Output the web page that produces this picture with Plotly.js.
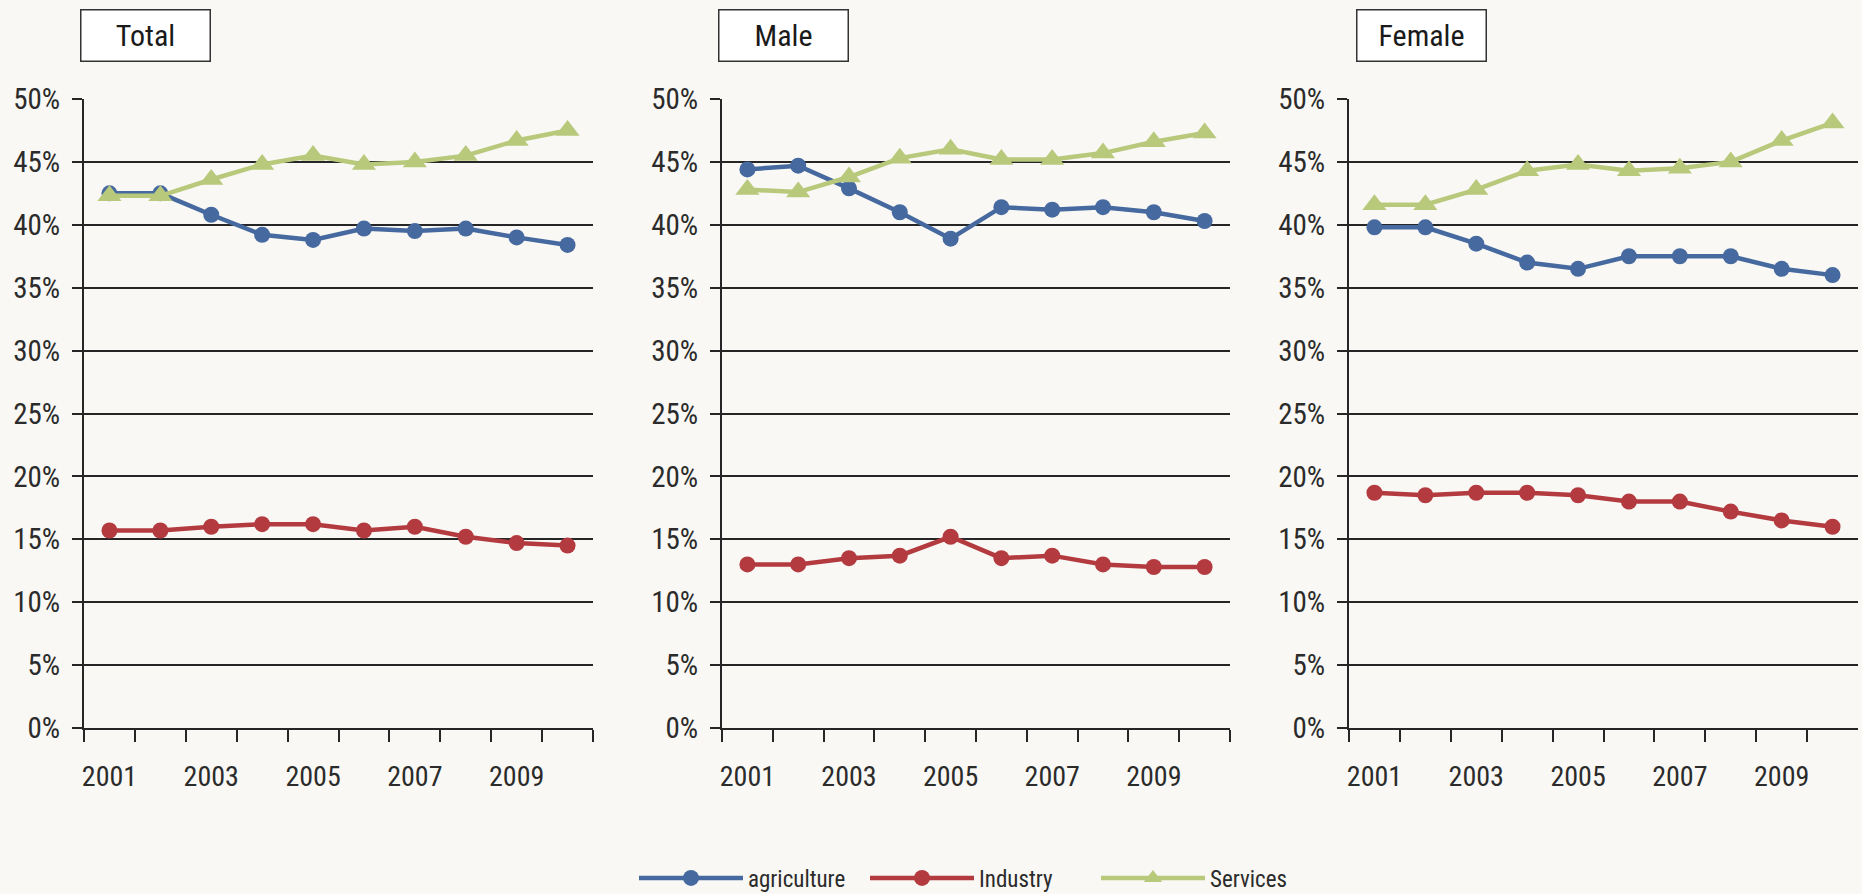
<!DOCTYPE html>
<html>
<head>
<meta charset="utf-8">
<script src="https://cdn.plot.ly/plotly-3.0.1.min.js"></script>
<style>
  html, body { margin: 0; padding: 0; background: #f9f8f4; }
  #chart { width: 1862px; height: 894px; }
</style>
</head>
<body>
<div id="chart"></div>
<script>
// ---- data (percent) ----
const years = ['2001','2002','2003','2004','2005','2006','2007','2008','2009','2010'];
const yearLabels = ['2001','','2003','','2005','','2007','','2009',''];
const panelTitles = ['Total', 'Male', 'Female'];
const seriesNames = ['agriculture', 'Industry', 'Services'];

const totalAgriculture = [42.5, 42.5, 40.8, 39.2, 38.8, 39.7, 39.5, 39.7, 39.0, 38.4];
const totalIndustry    = [15.7, 15.7, 16.0, 16.2, 16.2, 15.7, 16.0, 15.2, 14.7, 14.5];
const totalServices    = [42.3, 42.3, 43.6, 44.8, 45.5, 44.8, 45.0, 45.5, 46.7, 47.5];

const maleAgriculture  = [44.4, 44.7, 42.9, 41.0, 38.9, 41.4, 41.2, 41.4, 41.0, 40.3];
const maleIndustry     = [13.0, 13.0, 13.5, 13.7, 15.2, 13.5, 13.7, 13.0, 12.8, 12.8];
const maleServices     = [42.8, 42.6, 43.8, 45.3, 46.0, 45.2, 45.2, 45.7, 46.6, 47.3];

const femaleAgriculture = [39.8, 39.8, 38.5, 37.0, 36.5, 37.5, 37.5, 37.5, 36.5, 36.0];
const femaleIndustry    = [18.7, 18.5, 18.7, 18.7, 18.5, 18.0, 18.0, 17.2, 16.5, 16.0];
const femaleServices    = [41.6, 41.6, 42.8, 44.3, 44.8, 44.3, 44.5, 45.0, 46.7, 48.1];

const yTickVals = [0, 5, 10, 15, 20, 25, 30, 35, 40, 45, 50];
const yTickText = ['0%', '5%', '10%', '15%', '20%', '25%', '30%', '35%', '40%', '45%', '50%'];

// ---- styling ----
const colors = ['#46699f', '#b33b40', '#b8c97c'];
const symbols = ['circle', 'circle', 'triangle-up'];
const markerSizes = [16, 16, 21];
const FONT = '"Liberation Sans Narrow", "Arial Narrow", "Roboto Condensed", "Liberation Sans", Arial, sans-serif';
const TEXT = '#2b2b2b';
const GRID = '#262626';

const panels = [
  [totalAgriculture, totalIndustry, totalServices],
  [maleAgriculture, maleIndustry, maleServices],
  [femaleAgriculture, femaleIndustry, femaleServices]
];

const W = 1862, H = 894;
const xDomainsPx = [[84, 593], [722, 1230], [1349, 1858]];
const yTopPx = 99, yBotPx = 728;

const traces = [];
panels.forEach((series, p) => {
  series.forEach((vals, s) => {
    traces.push({
      type: 'scatter',
      mode: 'lines+markers',
      name: seriesNames[s],
      legendgroup: seriesNames[s],
      showlegend: p === 0,
      x: years,
      y: vals,
      xaxis: p === 0 ? 'x' : 'x' + (p + 1),
      yaxis: p === 0 ? 'y' : 'y' + (p + 1),
      line: { color: colors[s], width: 4.5 },
      marker: { color: colors[s], symbol: symbols[s], size: markerSizes[s] },
      hoverinfo: 'x+y+name'
    });
  });
});

const layout = {
  width: W, height: H,
  margin: { l: 0, r: 0, t: 0, b: 0, autoexpand: false },
  paper_bgcolor: '#f9f8f4',
  plot_bgcolor: '#f9f8f4',
  font: { family: FONT, color: TEXT, size: 26 },
  showlegend: true,
  legend: {
    orientation: 'h',
    x: 634 / W, xanchor: 'left',
    y: (H - 878) / H, yanchor: 'middle',
    font: { family: FONT, size: 23, color: TEXT },
    bgcolor: 'rgba(0,0,0,0)',
    itemwidth: 104,
    entrywidth: 112,
    traceorder: 'normal'
  },
  annotations: [],
  hovermode: 'closest'
};

panelTitles.forEach((t, p) => {
  const sfx = p === 0 ? '' : String(p + 1);
  const dom = [xDomainsPx[p][0] / W, xDomainsPx[p][1] / W];
  layout['xaxis' + sfx] = {
    domain: dom,
    anchor: 'y' + sfx,
    type: 'category',
    range: [-0.5, 9.5],
    tickmode: 'array',
    tickvals: years,
    ticktext: yearLabels,
    tickson: 'boundaries',
    tickangle: 0,
    ticks: 'outside',
    ticklen: 12,
    tickwidth: 2,
    tickcolor: GRID,
    showline: true,
    linecolor: GRID,
    linewidth: 2,
    showgrid: false,
    zeroline: false,
    ticklabelstandoff: 22,
    tickfont: { family: FONT, size: 28, color: TEXT },
    fixedrange: true
  };
  layout['yaxis' + sfx] = {
    domain: [(H - yBotPx) / H, (H - yTopPx) / H],
    anchor: 'x' + sfx,
    range: [0, 50],
    tickmode: 'array',
    tickvals: yTickVals,
    ticktext: yTickText,
    ticks: 'outside',
    ticklen: 10,
    tickwidth: 2,
    tickcolor: GRID,
    showline: true,
    linecolor: GRID,
    linewidth: 2,
    showgrid: true,
    gridcolor: GRID,
    gridwidth: 2,
    zeroline: false,
    ticklabelstandoff: 6,
    tickfont: { family: FONT, size: 29, color: TEXT },
    fixedrange: true
  };
  layout.annotations.push({
    xref: 'paper', yref: 'paper',
    x: [80, 718, 1356][p] / W, xanchor: 'left',
    y: (H - 9) / H, yanchor: 'top',
    text: t,
    showarrow: false,
    bgcolor: '#ffffff',
    bordercolor: '#333333',
    borderwidth: 1.5,
    borderpad: 0,
    width: 128,
    height: 50,
    align: 'center',
    valign: 'middle',
    font: { family: FONT, size: 30, color: '#1a1a1a' }
  });
});

Plotly.newPlot('chart', traces, layout, { displayModeBar: false, staticPlot: true });
</script>
</body>
</html>
